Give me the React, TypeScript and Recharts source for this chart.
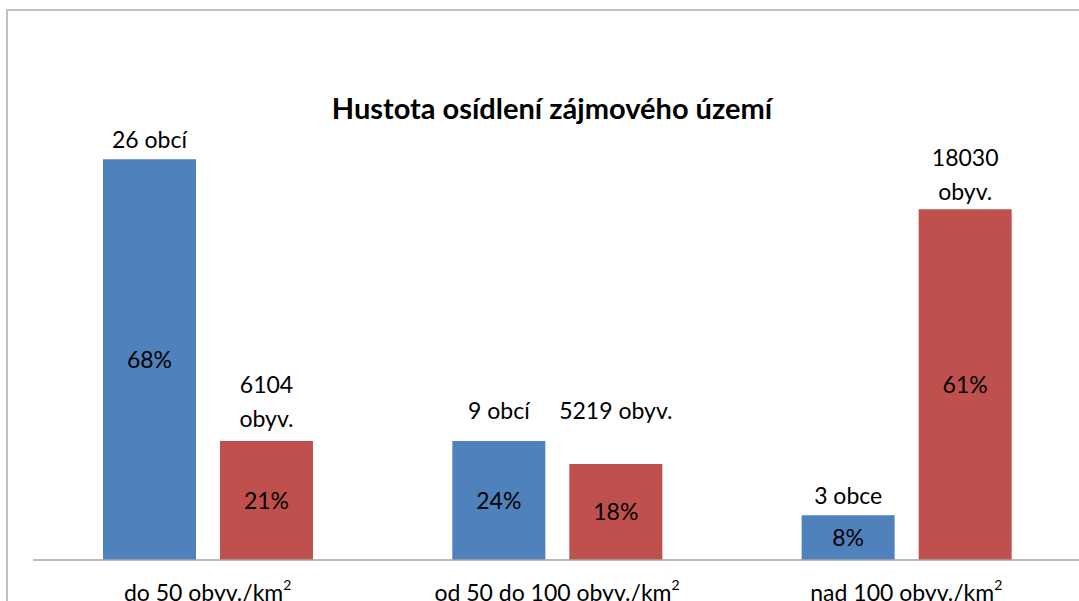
import { BarChart, Bar, XAxis, YAxis, LabelList, Customized } from "recharts";

// bar heights (share, %)
const categories = ["do 50 obyv./km", "od 50 do 100 obyv./km", "nad 100 obyv./km"];
const obceValues = [69.7, 20.7, 7.8];
const obyvValues = [20.7, 16.7, 61.0];

// label texts
const obceTop = [["26 obcí"], ["9 obcí"], ["3 obce"]];
const obyvTop = [["6104", "obyv."], ["5219 obyv."], ["18030", "obyv."]];
const obcePct = ["68%", "24%", "8%"];
const obyvPct = ["21%", "18%", "61%"];

const data = categories.map((name, i) => ({
  name,
  obce: obceValues[i],
  obyv: obyvValues[i],
}));

const BLUE = "#4F81BD";
const RED = "#C0504D";
const FONT = "Lato, 'Open Sans', sans-serif";
const FS = 23;

// how far the top labels sit above their bars (px)
const obceLift = [11, 22, 11];
const obyvLift = [14, 45, 9];

const topLabel = (lines: string[][], lift: number[]) => (props: any) => {
  const { x, y, width, index } = props;
  const rows = lines[index];
  const cx = Number(x) + Number(width) / 2;
  const base = Number(y) - lift[index];
  return (
    <g>
      {rows.map((t, k) => (
        <text
          key={k}
          x={cx}
          y={base - (rows.length - 1 - k) * 34}
          textAnchor="middle"
          fontFamily={FONT}
          fontSize={FS}
          fill="#000"
        >
          {t}
        </text>
      ))}
    </g>
  );
};

const innerLabel = (texts: string[]) => (props: any) => {
  const { x, y, width, height, index } = props;
  return (
    <text
      x={Number(x) + Number(width) / 2}
      y={Number(y) + Number(height) / 2 + FS * 0.36}
      textAnchor="middle"
      fontFamily={FONT}
      fontSize={FS}
      fill="#000"
    >
      {texts[index]}
    </text>
  );
};

const CategoryTick = (props: any) => {
  const { x, y, payload } = props;
  return (
    <text x={x} y={Number(y) + 33} textAnchor="middle" fontFamily={FONT} fontSize={FS} fill="#000">
      {payload.value}
      <tspan dy={-11} fontSize={14}>
        2
      </tspan>
    </text>
  );
};

const Title = () => (
  <text
    x={552}
    y={119}
    textAnchor="middle"
    fontFamily={FONT}
    fontSize={29}
    fontWeight="bold"
    fill="#000"
  >
    Hustota osídlení zájmového území
  </text>
);

export default function App() {
  return (
    <div
      style={{
        position: "absolute",
        left: 0,
        top: 0,
        width: 1079,
        height: 601,
        overflow: "hidden",
        background: "#fff",
      }}
    >
      <div
        style={{
          position: "absolute",
          left: 6,
          top: 9,
          width: 1200,
          height: 800,
          borderTop: "2px solid #BFBFBF",
          borderLeft: "2px solid #BFBFBF",
        }}
      />
      <div style={{ position: "absolute", left: 0, top: 0 }}>
        <BarChart
          width={1100}
          height={601}
          data={data}
          margin={{ top: 100, right: 19, left: 33, bottom: 0 }}
          barSize={93}
          barGap={24}
        >
          <XAxis
            dataKey="name"
            height={41}
            axisLine={{ stroke: "#A6A6A6", strokeWidth: 1.5 }}
            tickLine={false}
            tick={<CategoryTick />}
            interval={0}
          />
          <YAxis hide domain={[0, 80]} />
          <Bar dataKey="obce" fill={BLUE} isAnimationActive={false}>
            <LabelList dataKey="obce" content={topLabel(obceTop, obceLift)} />
            <LabelList dataKey="obce" content={innerLabel(obcePct)} />
          </Bar>
          <Bar dataKey="obyv" fill={RED} isAnimationActive={false}>
            <LabelList dataKey="obyv" content={topLabel(obyvTop, obyvLift)} />
            <LabelList dataKey="obyv" content={innerLabel(obyvPct)} />
          </Bar>
          <Customized component={Title} />
        </BarChart>
      </div>
    </div>
  );
}
